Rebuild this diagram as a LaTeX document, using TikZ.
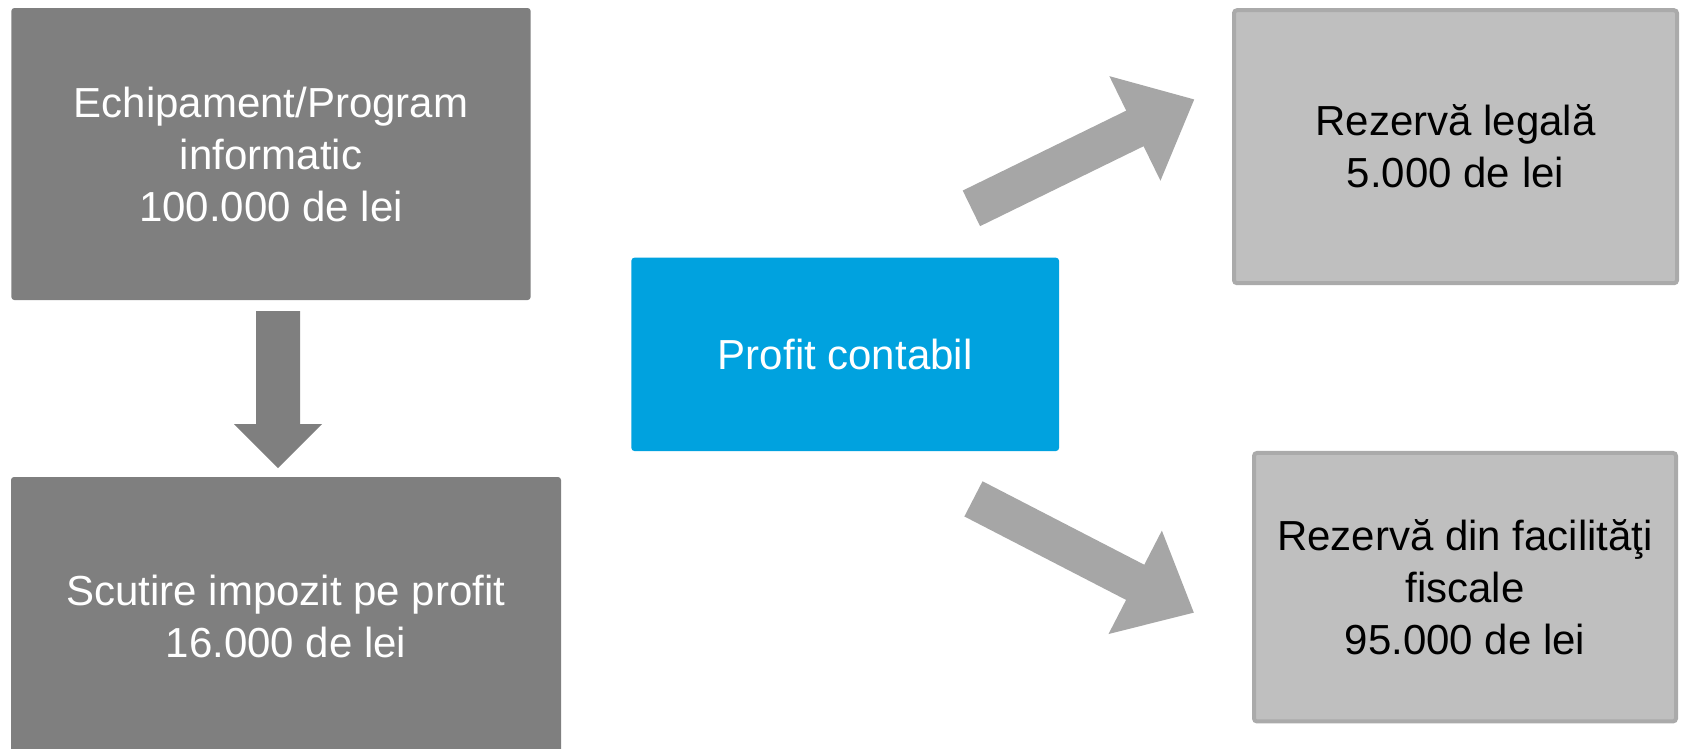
\documentclass[tikz,border=0pt]{standalone}
\usepackage{fontspec}
\setmainfont{Liberation Sans}
\definecolor{boxdark}{HTML}{7F7F7F}
\definecolor{boxlight}{HTML}{BFBFBF}
\definecolor{boxlightedge}{HTML}{AAAAAA}
\definecolor{arrowlight}{HTML}{A6A6A6}
\definecolor{profitblue}{HTML}{00A2DF}
\begin{document}
\begin{tikzpicture}[x=1pt,y=-1pt,
  boxtext/.style={align=center, inner sep=0pt, font=\fontsize{42}{52}\selectfont},
  darkbox/.style={boxtext, fill=boxdark, rounded corners=3pt, text=white},
  bluebox/.style={boxtext, fill=profitblue, rounded corners=3pt, text=white},
  lightbox/.style={boxtext, fill=boxlight, draw=boxlightedge, line width=4pt, rounded corners=3pt, text=black},
]
\useasboundingbox (0,0) rectangle (1686,748);

\node[darkbox, minimum width=519.3pt, minimum height=292pt] (equip) at (271,154)
  {Echipament/Program\\informatic\\100.000 de lei};
\node[darkbox, minimum width=550pt, minimum height=278pt] (scutire) at (286,616)
  {Scutire impozit pe profit\\16.000 de lei};
\node[bluebox, minimum width=427.6pt, minimum height=193.3pt] (profit) at (845.2,354.35)
  {Profit contabil};
\node[lightbox, minimum width=443pt, minimum height=273pt] (legala) at (1455.5,146.7)
  {Rezervă legală\\5.000 de lei};
\node[lightbox, minimum width=422pt, minimum height=268.5pt] (facil) at (1465,587.2)
  {Rezervă din facilităţi\\fiscale\\95.000 de lei};

% down block arrow
\fill[boxdark] (256,311) -- (300,311) -- (300,424) -- (322,424) -- (278,468)
  -- (234,424) -- (256,424) -- cycle;

% upper diagonal block arrow
\begin{scope}[shift={(971.4,208.35)}, rotate=26.05]
\fill[arrowlight] (0,-19.8) -- (182,-19.8) -- (182,-58.2) -- (248,0)
  -- (182,58.2) -- (182,19.8) -- (0,19.8) -- cycle;
\end{scope}

% lower diagonal block arrow
\begin{scope}[shift={(973.45,498.85)}, rotate=-27.3]
\fill[arrowlight] (0,-19.8) -- (182,-19.8) -- (182,-58.2) -- (248,0)
  -- (182,58.2) -- (182,19.8) -- (0,19.8) -- cycle;
\end{scope}
\end{tikzpicture}
\end{document}
